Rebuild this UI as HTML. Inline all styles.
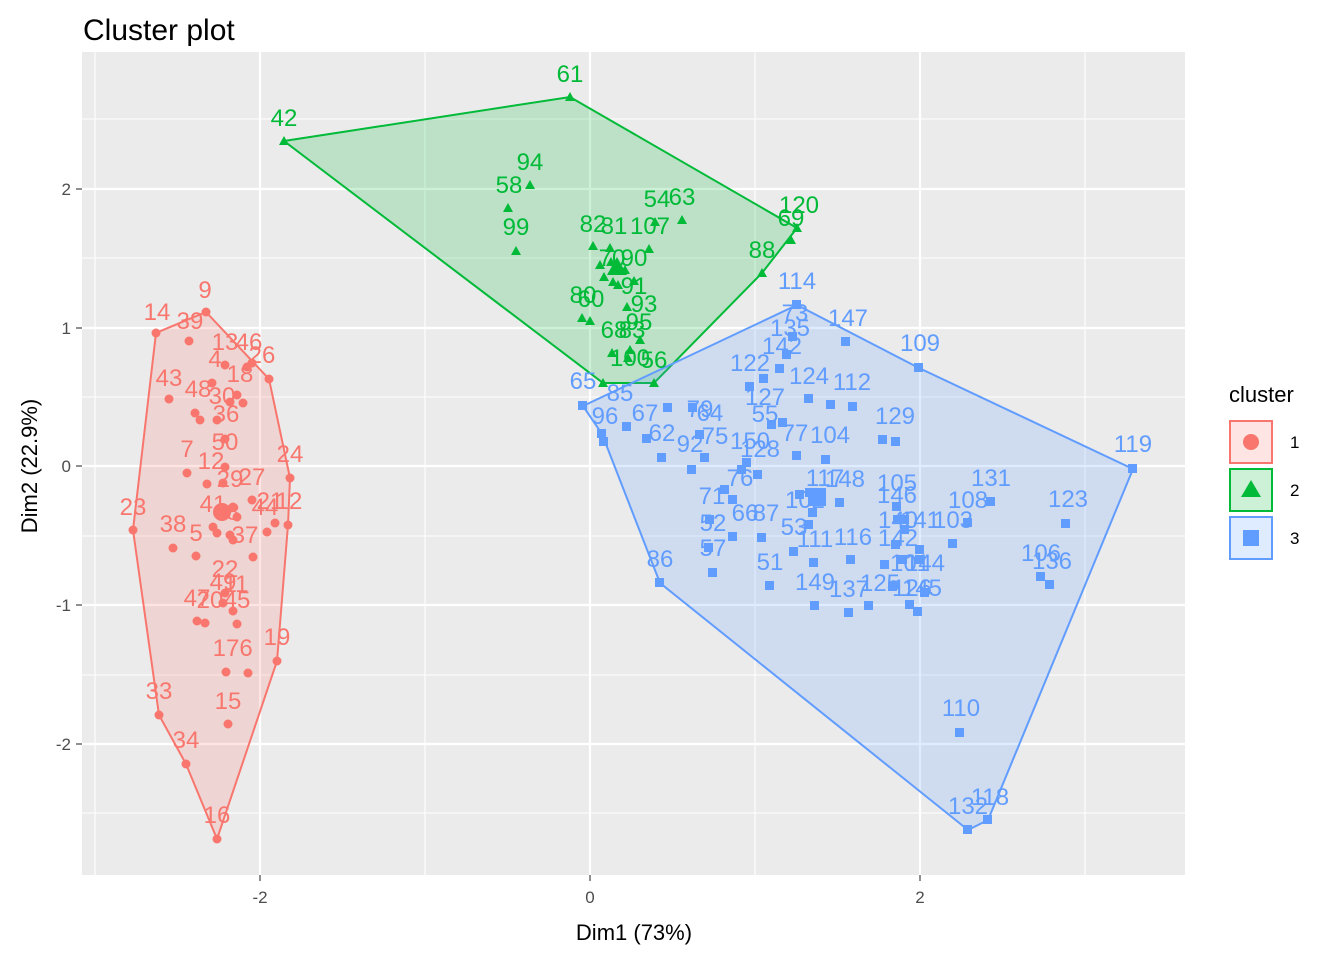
<!DOCTYPE html>
<html><head><meta charset="utf-8"><style>
html,body{margin:0;padding:0;background:#fff}
svg{display:block;font-family:"Liberation Sans",Arial,sans-serif}
.r{fill:#F8766D}.g{fill:#00BA38}.b{fill:#619CFF}
.lr{fill:#F8766D;font-size:24px;text-anchor:middle}
.lg{fill:#00BA38;font-size:24px;text-anchor:middle}
.lb{fill:#619CFF;font-size:24px;text-anchor:middle}
</style></head><body>
<svg width="1344" height="960" viewBox="0 0 1344 960">
<rect width="1344" height="960" fill="#fff"/>
<text x="83" y="40" font-size="30" fill="#000">Cluster plot</text>
<rect x="82" y="52" width="1103" height="823" fill="#EBEBEB"/>
<g stroke="#fff" stroke-width="1.1">
<line x1="95" y1="52" x2="95" y2="875"/><line x1="425" y1="52" x2="425" y2="875"/><line x1="755" y1="52" x2="755" y2="875"/><line x1="1085" y1="52" x2="1085" y2="875"/>
<line x1="82" y1="119" x2="1185" y2="119"/><line x1="82" y1="258" x2="1185" y2="258"/><line x1="82" y1="397" x2="1185" y2="397"/><line x1="82" y1="536" x2="1185" y2="536"/><line x1="82" y1="675" x2="1185" y2="675"/><line x1="82" y1="813" x2="1185" y2="813"/>
</g>
<g stroke="#fff" stroke-width="2.2">
<line x1="260" y1="52" x2="260" y2="875"/><line x1="590" y1="52" x2="590" y2="875"/><line x1="920" y1="52" x2="920" y2="875"/>
<line x1="82" y1="189" x2="1185" y2="189"/><line x1="82" y1="328" x2="1185" y2="328"/><line x1="82" y1="466" x2="1185" y2="466"/><line x1="82" y1="605" x2="1185" y2="605"/><line x1="82" y1="744" x2="1185" y2="744"/>
</g>
<!-- hulls -->
<polygon points="206,312 269,379 290,478 288,525 277,661 217,839 186,764 159,715 133,530 156,333" fill="#F8766D" fill-opacity="0.2" stroke="#F8766D" stroke-width="2"/>
<polygon points="284,141 570,97 797,228 762,273 654,383 603,383" fill="#00BA38" fill-opacity="0.2" stroke="#00BA38" stroke-width="2"/>
<polygon points="583,406 797,305 919,368 1133,469 988,820 968,830 660,583 602,434" fill="#619CFF" fill-opacity="0.2" stroke="#619CFF" stroke-width="2"/>
<!-- red points -->
<g class="r">
<circle cx="206" cy="312" r="4.5"/><circle cx="156" cy="333" r="4.5"/><circle cx="189" cy="341" r="4.5"/><circle cx="169" cy="399" r="4.5"/><circle cx="269" cy="379" r="4.5"/><circle cx="225" cy="365" r="4.5"/><circle cx="247" cy="367" r="4.5"/><circle cx="252" cy="363" r="4.5"/><circle cx="212" cy="383" r="4.5"/><circle cx="237" cy="395" r="4.5"/><circle cx="243" cy="403" r="4.5"/><circle cx="230" cy="402" r="4.5"/><circle cx="195" cy="413" r="4.5"/><circle cx="200" cy="420" r="4.5"/><circle cx="217" cy="420" r="4.5"/><circle cx="225" cy="439" r="4.5"/><circle cx="187" cy="473" r="4.5"/><circle cx="207" cy="484" r="4.5"/><circle cx="225" cy="467" r="4.5"/><circle cx="223" cy="483" r="4.5"/><circle cx="290" cy="478" r="4.5"/><circle cx="252" cy="500" r="4.5"/><circle cx="288" cy="525" r="4.5"/><circle cx="275" cy="523" r="4.5"/><circle cx="267" cy="532" r="4.5"/><circle cx="222" cy="512" r="9"/><circle cx="233" cy="507" r="4.5"/><circle cx="237" cy="517" r="4.5"/><circle cx="213" cy="527" r="4.5"/><circle cx="217" cy="533" r="4.5"/><circle cx="230" cy="535" r="4.5"/><circle cx="233" cy="540" r="4.5"/><circle cx="133" cy="530" r="4.5"/><circle cx="173" cy="548" r="4.5"/><circle cx="196" cy="556" r="4.5"/><circle cx="253" cy="557" r="4.5"/><circle cx="225" cy="593" r="4.5"/><circle cx="223" cy="603" r="4.5"/><circle cx="233" cy="611" r="4.5"/><circle cx="197" cy="621" r="4.5"/><circle cx="205" cy="623" r="4.5"/><circle cx="237" cy="624" r="4.5"/><circle cx="277" cy="661" r="4.5"/><circle cx="226" cy="672" r="4.5"/><circle cx="248" cy="673" r="4.5"/><circle cx="228" cy="724" r="4.5"/><circle cx="159" cy="715" r="4.5"/><circle cx="186" cy="764" r="4.5"/><circle cx="217" cy="839" r="4.5"/>
</g>
<g>
<text class="lr" x="205" y="298">9</text><text class="lr" x="157" y="320">14</text><text class="lr" x="190" y="329">39</text><text class="lr" x="169" y="386">43</text><text class="lr" x="262" y="363">26</text><text class="lr" x="225" y="350">13</text><text class="lr" x="249" y="350">46</text><text class="lr" x="215" y="367">4</text><text class="lr" x="240" y="382">18</text><text class="lr" x="198" y="397">48</text><text class="lr" x="222" y="404">30</text><text class="lr" x="226" y="422">36</text><text class="lr" x="187" y="457">7</text><text class="lr" x="225" y="450">50</text><text class="lr" x="211" y="469">12</text><text class="lr" x="290" y="462">24</text><text class="lr" x="252" y="485">27</text><text class="lr" x="230" y="487">29</text><text class="lr" x="289" y="509">12</text><text class="lr" x="270" y="509">21</text><text class="lr" x="265" y="515">44</text><text class="lr" x="213" y="512">41</text><text class="lr" x="233" y="520">8</text><text class="lr" x="245" y="543">37</text><text class="lr" x="133" y="515">23</text><text class="lr" x="173" y="532">38</text><text class="lr" x="196" y="541">5</text><text class="lr" x="225" y="577">22</text><text class="lr" x="223" y="590">49</text><text class="lr" x="236" y="592">11</text><text class="lr" x="197" y="606">47</text><text class="lr" x="210" y="608">20</text><text class="lr" x="237" y="608">45</text><text class="lr" x="277" y="645">19</text><text class="lr" x="226" y="656">17</text><text class="lr" x="246" y="656">6</text><text class="lr" x="228" y="709">15</text><text class="lr" x="159" y="699">33</text><text class="lr" x="186" y="748">34</text><text class="lr" x="217" y="823">16</text>
</g>
<!-- green points -->
<g class="g">
<path d="M570,92 l5,9 h-10z M284,136 l5,9 h-10z M530,180 l5,9 h-10z M508,203 l5,9 h-10z M516,246 l5,9 h-10z M655,217 l5,9 h-10z M682,215 l5,9 h-10z M649,244 l5,9 h-10z M593,241 l5,9 h-10z M610,243 l5,9 h-10z M611,257 l5,9 h-10z M797,223 l5,9 h-10z M791,235 l5,9 h-10z M762,268 l5,9 h-10z M634,276 l5,9 h-10z M627,302 l5,9 h-10z M582,313 l5,9 h-10z M590,316 l5,9 h-10z M612,348 l5,9 h-10z M630,345 l5,9 h-10z M640,335 l5,9 h-10z M628,353 l5,9 h-10z M654,378 l5,9 h-10z M603,378 l5,9 h-10z M618,280 l5,9 h-10z M613,277 l5,9 h-10z M600,260 l5,9 h-10z M625,265 l5,9 h-10z M604,272 l5,9 h-10z"/>
<path d="M617,257 l10,18 h-20z"/>
</g>
<g>
<text class="lg" x="570" y="82">61</text><text class="lg" x="284" y="126">42</text><text class="lg" x="530" y="170">94</text><text class="lg" x="509" y="193">58</text><text class="lg" x="516" y="235">99</text><text class="lg" x="657" y="207">54</text><text class="lg" x="682" y="205">63</text><text class="lg" x="650" y="234">107</text><text class="lg" x="593" y="232">82</text><text class="lg" x="614" y="234">81</text><text class="lg" x="612" y="266">70</text><text class="lg" x="634" y="266">90</text><text class="lg" x="799" y="213">120</text><text class="lg" x="791" y="226">69</text><text class="lg" x="762" y="258">88</text><text class="lg" x="634" y="294">91</text><text class="lg" x="644" y="312">93</text><text class="lg" x="583" y="303">80</text><text class="lg" x="591" y="307">60</text><text class="lg" x="614" y="338">68</text><text class="lg" x="632" y="338">83</text><text class="lg" x="639" y="330">95</text><text class="lg" x="630" y="366">100</text><text class="lg" x="654" y="368">56</text>
</g>
<!-- blue points -->
<g class="b">
<path d="M792,300h9v9h-9z M841,337h9v9h-9z M914,363h9v9h-9z M788,332h9v9h-9z M782,350h9v9h-9z M775,364h9v9h-9z M759,374h9v9h-9z M745,382h9v9h-9z M804,394h9v9h-9z M826,400h9v9h-9z M848,402h9v9h-9z M578,401h9v9h-9z M622,422h9v9h-9z M597,429h9v9h-9z M599,437h9v9h-9z M663,403h9v9h-9z M688,403h9v9h-9z M642,434h9v9h-9z M657,453h9v9h-9z M695,430h9v9h-9z M700,453h9v9h-9z M687,465h9v9h-9z M767,420h9v9h-9z M778,418h9v9h-9z M792,451h9v9h-9z M821,455h9v9h-9z M878,435h9v9h-9z M891,437h9v9h-9z M742,458h9v9h-9z M737,465h9v9h-9z M753,470h9v9h-9z M728,495h9v9h-9z M705,515h9v9h-9z M728,532h9v9h-9z M757,533h9v9h-9z M704,543h9v9h-9z M708,568h9v9h-9z M655,578h9v9h-9z M805,488h9v9h-9z M835,498h9v9h-9z M808,508h9v9h-9z M804,520h9v9h-9z M789,547h9v9h-9z M765,581h9v9h-9z M809,558h9v9h-9z M846,555h9v9h-9z M810,601h9v9h-9z M844,608h9v9h-9z M864,601h9v9h-9z M892,502h9v9h-9z M893,515h9v9h-9z M891,540h9v9h-9z M915,545h9v9h-9z M915,555h9v9h-9z M898,555h9v9h-9z M948,539h9v9h-9z M963,518h9v9h-9z M888,582h9v9h-9z M920,588h9v9h-9z M905,600h9v9h-9z M913,607h9v9h-9z M1128,464h9v9h-9z M1061,519h9v9h-9z M1036,572h9v9h-9z M1045,580h9v9h-9z M986,497h9v9h-9z M955,728h9v9h-9z M963,825h9v9h-9z M983,815h9v9h-9z M795,490h9v9h-9z M900,525h9v9h-9z M880,560h9v9h-9z M900,515h9v9h-9z M720,485h9v9h-9z"/>
<path d="M808,488h18v18h-18z"/>
</g>
<g>
<text class="lb" x="797" y="289">114</text><text class="lb" x="795" y="321">73</text><text class="lb" x="848" y="326">147</text><text class="lb" x="920" y="351">109</text><text class="lb" x="790" y="336">135</text><text class="lb" x="782" y="354">142</text><text class="lb" x="750" y="371">122</text><text class="lb" x="809" y="384">124</text><text class="lb" x="852" y="390">112</text><text class="lb" x="765" y="405">127</text><text class="lb" x="765" y="422">55</text><text class="lb" x="583" y="389">65</text><text class="lb" x="620" y="401">85</text><text class="lb" x="605" y="424">96</text><text class="lb" x="645" y="421">67</text><text class="lb" x="700" y="417">79</text><text class="lb" x="710" y="421">64</text><text class="lb" x="662" y="441">62</text><text class="lb" x="690" y="452">92</text><text class="lb" x="715" y="444">75</text><text class="lb" x="750" y="449">150</text><text class="lb" x="760" y="457">128</text><text class="lb" x="795" y="441">77</text><text class="lb" x="830" y="443">104</text><text class="lb" x="895" y="424">129</text><text class="lb" x="740" y="486">76</text><text class="lb" x="712" y="504">71</text><text class="lb" x="713" y="531">52</text><text class="lb" x="745" y="521">66</text><text class="lb" x="766" y="521">87</text><text class="lb" x="713" y="556">57</text><text class="lb" x="660" y="567">86</text><text class="lb" x="825" y="486">117</text><text class="lb" x="845" y="487">148</text><text class="lb" x="805" y="508">102</text><text class="lb" x="794" y="535">53</text><text class="lb" x="815" y="547">111</text><text class="lb" x="853" y="545">116</text><text class="lb" x="770" y="570">51</text><text class="lb" x="815" y="590">149</text><text class="lb" x="849" y="597">137</text><text class="lb" x="880" y="591">125</text><text class="lb" x="897" y="491">105</text><text class="lb" x="897" y="503">146</text><text class="lb" x="898" y="528">140</text><text class="lb" x="898" y="546">142</text><text class="lb" x="920" y="528">141</text><text class="lb" x="953" y="528">103</text><text class="lb" x="968" y="508">108</text><text class="lb" x="991" y="486">131</text><text class="lb" x="1068" y="507">123</text><text class="lb" x="1041" y="561">106</text><text class="lb" x="1052" y="569">136</text><text class="lb" x="1133" y="452">119</text><text class="lb" x="910" y="571">101</text><text class="lb" x="925" y="571">144</text><text class="lb" x="912" y="596">126</text><text class="lb" x="922" y="596">145</text><text class="lb" x="961" y="716">110</text><text class="lb" x="968" y="814">132</text><text class="lb" x="990" y="805">118</text>
</g>
<!-- axes ticks -->
<g stroke="#333" stroke-width="1.1">
<line x1="260" y1="875" x2="260" y2="881"/><line x1="590" y1="875" x2="590" y2="881"/><line x1="920" y1="875" x2="920" y2="881"/>
<line x1="76" y1="189" x2="82" y2="189"/><line x1="76" y1="328" x2="82" y2="328"/><line x1="76" y1="466" x2="82" y2="466"/><line x1="76" y1="605" x2="82" y2="605"/><line x1="76" y1="744" x2="82" y2="744"/>
</g>
<g fill="#4D4D4D" font-size="17">
<text x="260" y="903" text-anchor="middle">-2</text><text x="590" y="903" text-anchor="middle">0</text><text x="920" y="903" text-anchor="middle">2</text>
<text x="71" y="195" text-anchor="end">2</text><text x="71" y="334" text-anchor="end">1</text><text x="71" y="472" text-anchor="end">0</text><text x="71" y="611" text-anchor="end">-1</text><text x="71" y="750" text-anchor="end">-2</text>
</g>
<text x="634" y="940" text-anchor="middle" font-size="22" fill="#000">Dim1 (73%)</text>
<text transform="translate(37,466) rotate(-90)" text-anchor="middle" font-size="22" fill="#000">Dim2 (22.9%)</text>
<!-- legend -->
<text x="1229" y="402" font-size="22" fill="#000">cluster</text>
<rect x="1230" y="421" width="42" height="42" fill="#F8766D" fill-opacity="0.2" stroke="#F8766D" stroke-width="2"/>
<circle cx="1251" cy="442" r="8" class="r"/>
<rect x="1230" y="469" width="42" height="42" fill="#00BA38" fill-opacity="0.2" stroke="#00BA38" stroke-width="2"/>
<path d="M1251,480 l10,17 h-20z" class="g"/>
<rect x="1230" y="517" width="42" height="42" fill="#619CFF" fill-opacity="0.2" stroke="#619CFF" stroke-width="2"/>
<rect x="1243" y="530" width="16" height="16" class="b"/>
<g font-size="17" fill="#000"><text x="1290" y="448">1</text><text x="1290" y="496">2</text><text x="1290" y="544">3</text></g>
</svg>
</body></html>
